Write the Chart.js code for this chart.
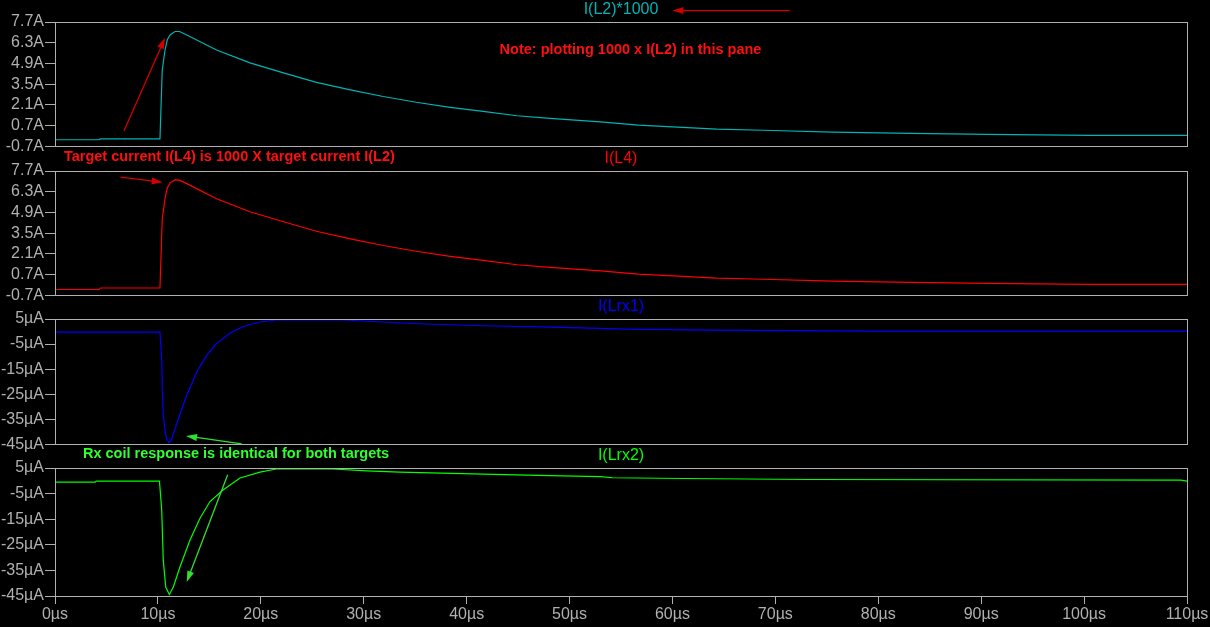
<!DOCTYPE html>
<html><head><meta charset="utf-8">
<script src="https://cdn.jsdelivr.net/npm/chart.js@4.4.1/dist/chart.umd.min.js"></script>
<style>
html,body{margin:0;padding:0;background:#000;width:1210px;height:627px;overflow:hidden}
.pane{position:absolute;left:0;width:1210px}
canvas{display:block}
</style></head><body>
<div class="pane" style="top:0px"><canvas id="c1" width="1210" height="157"></canvas></div>
<div class="pane" style="top:148px"><canvas id="c2" width="1210" height="158"></canvas></div>
<div class="pane" style="top:297px"><canvas id="c3" width="1210" height="158"></canvas></div>
<div class="pane" style="top:446px"><canvas id="c4" width="1210" height="181"></canvas></div>
<script>
// ---- tick labels ----
const timeTicks = [0, 10, 20, 30, 40, 50, 60, 70, 80, 90, 100, 110];
const ampTicks = [-0.7, 0.7, 2.1, 3.5, 4.9, 6.3, 7.7];
const microAmpTicks = [-45, -35, -25, -15, -5, 5];

// ---- series titles ----
const seriesNames = ["I(L2)*1000", "I(L4)", "I(Lrx1)", "I(Lrx2)"];

// ---- series: time (µs) and value ----
const tL2 = [0, 4.3, 4.4, 10.2, 10.42, 10.69, 10.91, 11.18, 11.66, 12.1, 13.0, 15.7, 18.95, 22.2, 25.4, 28.7, 31.9, 35.1, 38.4, 41.6, 44.9, 48.1, 53.0, 56.7, 60.5, 64.3, 68.8, 75.6, 83.2, 90.7, 100.5, 110];
const iL2x1000 = [-0.25, -0.25, -0.19, -0.19, 4.44, 5.81, 6.5, 6.83, 7.06, 7.06, 6.75, 5.81, 4.94, 4.26, 3.62, 3.12, 2.67, 2.28, 1.94, 1.66, 1.37, 1.19, 0.96, 0.73, 0.60, 0.46, 0.39, 0.27, 0.18, 0.11, 0.04, 0.04];

const tL4 = [0, 4.3, 4.4, 10.2, 10.42, 10.69, 10.91, 11.18, 11.66, 12.1, 13.0, 15.7, 18.95, 22.2, 25.4, 28.7, 31.9, 35.1, 38.4, 41.6, 44.9, 48.1, 53.0, 56.7, 60.5, 64.3, 68.8, 75.6, 83.2, 90.7, 100.5, 110];
const iL4 = [-0.3, -0.3, -0.2, -0.2, 4.44, 5.85, 6.55, 6.9, 7.1, 7.08, 6.78, 5.83, 4.95, 4.27, 3.63, 3.12, 2.67, 2.28, 1.94, 1.66, 1.37, 1.19, 0.96, 0.73, 0.60, 0.46, 0.39, 0.27, 0.18, 0.11, 0.04, 0.04];

const tLrx1 = [0, 10.2, 10.37, 10.43, 10.52, 10.69, 10.86, 11.08, 11.34, 11.66, 12.15, 12.8, 13.77, 14.74, 15.71, 17.0, 18.3, 19.9, 21.5, 28.0, 31.9, 35.2, 41.6, 48.1, 53.0, 55.5, 63.7, 79.0, 110];
const iLrx1 = [-0.24, -0.24, -11.4, -23.5, -32.8, -39.6, -42.9, -44.3, -42.9, -38.8, -32.9, -25.5, -16.1, -9.4, -4.7, -0.65, 2.0, 3.8, 4.6, 4.6, 3.8, 3.1, 2.3, 1.8, 1.3, 1.0, 0.6, 0.2, 0.15];

const tLrx2 = [0, 3.9, 4.0, 10.15, 10.37, 10.52, 10.76, 11.11, 11.5, 12.15, 13.12, 14.09, 15.06, 16.36, 17.98, 19.92, 21.5, 27.0, 30.3, 33.5, 41.6, 48.1, 53.0, 54.2, 61.2, 73.3, 109.4, 110];
const iLrx2 = [-0.5, -0.5, -0.1, -0.1, -11.4, -31, -41.5, -44.4, -41.5, -33.6, -23.1, -14.6, -8.1, -3.5, 1.1, 3.4, 4.6, 4.6, 3.9, 3.4, 2.6, 2.0, 1.6, 1.2, 0.9, 0.5, 0.29, -0.1];

// ---- annotations (in data coordinates: µs, value) ----
const notesPane1 = [{t: 43.2, v: 5.81, text: "Note: plotting 1000 x I(L2) in this pane", color: "#ff1010"}];
const arrowsPane1 = [
  {t1: 71.4, v1: 8.47, t2: 60.0, v2: 8.47, color: "#d00000"},
  {t1: 6.7, v1: 0.34, t2: 10.69, v2: 6.63, color: "#d00000"}
];
const notesPane2 = [{t: 0.87, v: 8.62, text: "Target current I(L4) is 1000 X target current I(L2)", color: "#ff1010"}];
const arrowsPane2 = [{t1: 6.36, v1: 7.28, t2: 10.46, v2: 6.94, color: "#d00000"}];
const notesPane3 = [];
const arrowsPane3 = [{t1: 18.14, v1: -44.76, t2: 12.73, v2: -41.65, color: "#30e030"}];
const notesPane4 = [{t: 2.72, v: 10.6, text: "Rx coil response is identical for both targets", color: "#30ff30"}];
const arrowsPane4 = [{t1: 16.78, v1: 2.37, t2: 12.8, v2: -39.5, color: "#30e030"}];

const FONT = "'Liberation Sans', Arial, sans-serif";
const GRAY = "#b0b0b0";

const panePlugin = {
  id: "panePlugin",
  afterDraw(chart) {
    const o = chart.options.plugins.panePlugin;
    const ctx = chart.ctx, a = chart.chartArea;
    const xs = chart.scales.x, ys = chart.scales.y;
    ctx.save();
    // frame
    ctx.strokeStyle = GRAY; ctx.lineWidth = 1;
    ctx.strokeRect(Math.round(a.left) + 0.5, Math.round(a.top) + 0.5, Math.round(a.right - a.left), Math.round(a.bottom - a.top));
    // title
    ctx.fillStyle = o.titleColor;
    ctx.font = "16px " + FONT;
    ctx.textAlign = "center"; ctx.textBaseline = "middle";
    ctx.fillText(o.title, (a.left + a.right) / 2, a.top - 12);
    // notes
    ctx.font = "bold 14.5px " + FONT;
    ctx.textAlign = "left";
    o.notes.forEach(n => {
      ctx.fillStyle = n.color;
      ctx.fillText(n.text, xs.getPixelForValue(n.t), ys.getPixelForValue(n.v));
    });
    // arrows
    o.arrows.forEach(ar => {
      const x1 = xs.getPixelForValue(ar.t1), y1 = ys.getPixelForValue(ar.v1);
      const x2 = xs.getPixelForValue(ar.t2), y2 = ys.getPixelForValue(ar.v2);
      const ang = Math.atan2(y2 - y1, x2 - x1);
      const L = 11, W = 3.5;
      ctx.strokeStyle = ar.color; ctx.fillStyle = ar.color; ctx.lineWidth = 1.3;
      ctx.beginPath(); ctx.moveTo(x1, y1);
      ctx.lineTo(x2 - Math.cos(ang) * L * 0.8, y2 - Math.sin(ang) * L * 0.8); ctx.stroke();
      ctx.beginPath();
      ctx.moveTo(x2, y2);
      ctx.lineTo(x2 - Math.cos(ang) * L - Math.sin(ang) * W, y2 - Math.sin(ang) * L + Math.cos(ang) * W);
      ctx.lineTo(x2 - Math.cos(ang) * L + Math.sin(ang) * W, y2 - Math.sin(ang) * L - Math.cos(ang) * W);
      ctx.closePath(); ctx.fill();
    });
    ctx.restore();
  }
};

function makePane(id, title, color, times, values, yTicks, fmt, showX, padTop, padBottom, notes, arrows) {
  const data = times.map((t, i) => ({x: t, y: values[i]}));
  return new Chart(document.getElementById(id), {
    type: "line",
    data: {datasets: [{data, borderColor: color, borderWidth: 1.2, pointRadius: 0, tension: 0, fill: false}]},
    plugins: [panePlugin],
    options: {
      responsive: false, animation: false, devicePixelRatio: 1,
      layout: {padding: {left: 0, right: 23, top: padTop, bottom: padBottom}},
      plugins: {
        legend: {display: false}, tooltip: {enabled: false}, title: {display: false},
        panePlugin: {title, titleColor: color, notes, arrows}
      },
      scales: {
        x: {
          type: "linear", min: timeTicks[0], max: timeTicks[timeTicks.length - 1], display: showX,
          afterBuildTicks: s => { s.ticks = timeTicks.map(v => ({value: v})); },
          afterFit: s => { s.height = showX ? 31 : 0; },
          grid: {drawOnChartArea: false, drawTicks: true, tickLength: 8, color: GRAY},
          border: {display: false},
          ticks: {color: GRAY, padding: 1, maxRotation: 0, autoSkip: false, font: {family: FONT, size: 16},
                  callback: v => v + "µs"}
        },
        y: {
          type: "linear", min: yTicks[0], max: yTicks[yTicks.length - 1],
          afterBuildTicks: s => { s.ticks = yTicks.map(v => ({value: v})); },
          afterFit: s => { s.width = 55; },
          grid: {drawOnChartArea: false, drawTicks: true, tickLength: 10, color: GRAY},
          border: {display: false},
          ticks: {color: GRAY, padding: 1, autoSkip: false, font: {family: FONT, size: 16}, callback: fmt}
        }
      }
    }
  });
}

const fmtA = v => v.toFixed(1) + "A";
const fmtuA = v => v + "µA";

makePane("c1", seriesNames[0], "#00b4b4", tL2, iL2x1000, ampTicks, fmtA, false, 22, 0, notesPane1, arrowsPane1);
makePane("c2", seriesNames[1], "#ff0000", tL4, iL4, ampTicks, fmtA, false, 23, 0, notesPane2, arrowsPane2);
makePane("c3", seriesNames[2], "#0000ff", tLrx1, iLrx1, microAmpTicks, fmtuA, false, 22, 0, notesPane3, arrowsPane3);
makePane("c4", seriesNames[3], "#00ff00", tLrx2, iLrx2, microAmpTicks, fmtuA, true, 22, 0, notesPane4, arrowsPane4);
</script>
</body></html>
